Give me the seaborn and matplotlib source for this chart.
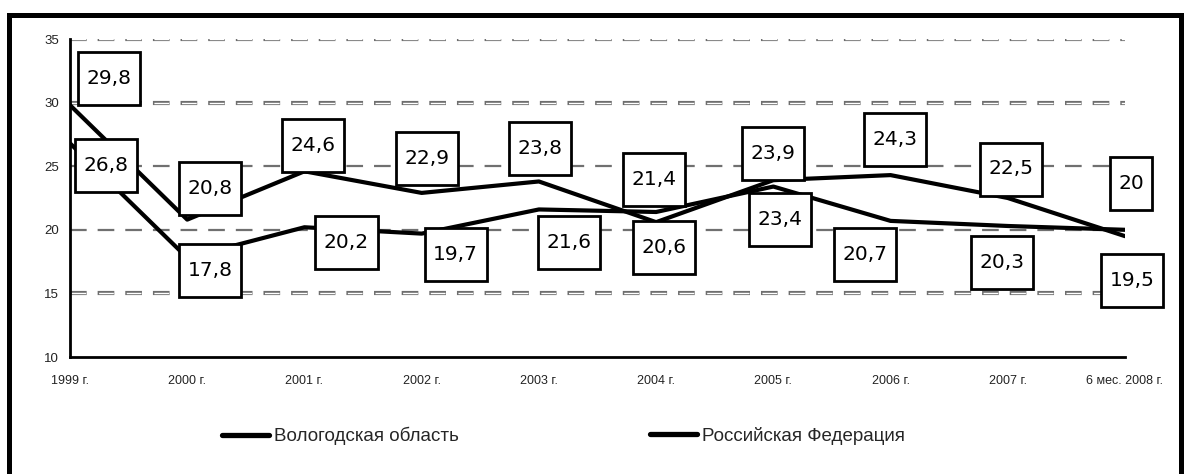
import matplotlib
matplotlib.use("Agg")
import matplotlib.pyplot as plt
import matplotlib.patches as mpatches
from matplotlib.lines import Line2D
from matplotlib.path import Path
import pandas as pd
import seaborn as sns

# данные
years = ['1999 г.', '2000 г.', '2001 г.', '2002 г.', '2003 г.', '2004 г.',
         '2005 г.', '2006 г.', '2007 г.', '6 мес. 2008 г.']
vologda = [29.8, 20.8, 24.6, 22.9, 23.8, 20.6, 23.9, 24.3, 22.5, 19.5]
russia = [26.8, 17.8, 20.2, 19.7, 21.6, 21.4, 23.4, 20.7, 20.3, 20.0]
series_names = ['Вологодская область', 'Российская Федерация']

# смещения подписей (центр рамки относительно точки, в пикселях)
vologda_offsets = [(39, 27), (23, 31), (9, 26), (5, 34), (1, 33),
                   (8, -25), (0, 27), (4, 36), (3, 29), (7, -44)]
russia_offsets = [(36, -22), (23, -13), (42, -15), (34, -21), (30, -33),
                  (-2, 32), (7, -33), (-26, -34), (-6, -37), (6, 46)]

sns.set_style("white")
plt.rcParams['font.family'] = ['Liberation Sans Narrow', 'Liberation Sans', 'DejaVu Sans']
plt.rcParams['lines.scale_dashes'] = False

df = pd.DataFrame({
    'idx': list(range(len(years))) * 2,
    'value': vologda + russia,
    'series': [series_names[0]] * len(years) + [series_names[1]] * len(years),
})

fig = plt.figure(figsize=(11.84, 4.74), dpi=100)
ax = fig.add_axes([70 / 1184, 1 - 357 / 474, 1055 / 1184, 318 / 474])

# сетка
for y in [15, 30, 35]:
    ax.axhline(y, color='#6e6e6e', lw=3.0, linestyle=(0, (12, 7.9)), zorder=1)
    ax.axhline(y, color='white', lw=1.0, linestyle=(19.2, (10.6, 9.3)), zorder=1.1)
for y in [20, 25]:
    ax.axhline(y, color='#707070', lw=1.6, linestyle=(0, (12, 7.9)), zorder=1)

sns.lineplot(data=df, x='idx', y='value', hue='series',
             palette=['black', 'black'], linewidth=3.0, legend=False,
             ax=ax, zorder=3)

BOX_H = 53
PAD_X = 8.5


def label_box(x0, y0, width, height, mutation_size):
    cx = x0 + width / 2
    cy = y0 + height / 2
    w = width + 2 * PAD_X
    h = BOX_H
    return Path([(cx - w / 2, cy - h / 2), (cx + w / 2, cy - h / 2),
                 (cx + w / 2, cy + h / 2), (cx - w / 2, cy + h / 2),
                 (cx - w / 2, cy - h / 2)], closed=True)


for vals, offs in [(vologda, vologda_offsets), (russia, russia_offsets)]:
    for i, (v, (dx, dy)) in enumerate(zip(vals, offs)):
        ax.annotate(('%g' % v).replace('.', ','), xy=(i, v), xytext=(dx, dy),
                    textcoords='offset pixels', ha='center', va='center',
                    fontsize=14.5, family=['DejaVu Sans'], color='black',
                    bbox=dict(boxstyle=label_box, fc='white', ec='black', lw=2.0),
                    zorder=5, annotation_clip=False)

ax.set_xlim(0, 9)
ax.set_ylim(10, 35)
ax.set_xticks(range(len(years)))
ax.set_xticklabels(years)
ax.set_yticks([10, 15, 20, 25, 30, 35])
ax.set_xlabel('')
ax.set_ylabel('')
for s in ['top', 'right']:
    ax.spines[s].set_visible(False)
for s in ['left', 'bottom']:
    ax.spines[s].set_color('black')
    ax.spines[s].set_linewidth(2.0)
ax.tick_params(axis='both', direction='out', length=4, width=2.0, color='black',
               labelsize=9, labelcolor='#222222')
ax.tick_params(axis='y', labelsize=9.5, pad=4)
ax.tick_params(axis='x', pad=9)

# легенда
for name, x0 in zip(series_names, [222, 650]):
    h = Line2D([], [], color='black', lw=3.8)
    fig.legend([h], [name], loc='center left',
               bbox_to_anchor=(x0 / 1184, 1 - 436 / 474), frameon=False,
               fontsize=13.5, handlelength=2.5, handletextpad=0.3,
               borderpad=0, borderaxespad=0)

# рамка
fig.patches.append(mpatches.Rectangle((8.5 / 1184, -0.05), (1180.5 - 8.5) / 1184,
                                      1.05 - 14.5 / 474, transform=fig.transFigure,
                                      fill=False, lw=3.6, ec='black'))

fig.savefig('out.png', dpi=100)
